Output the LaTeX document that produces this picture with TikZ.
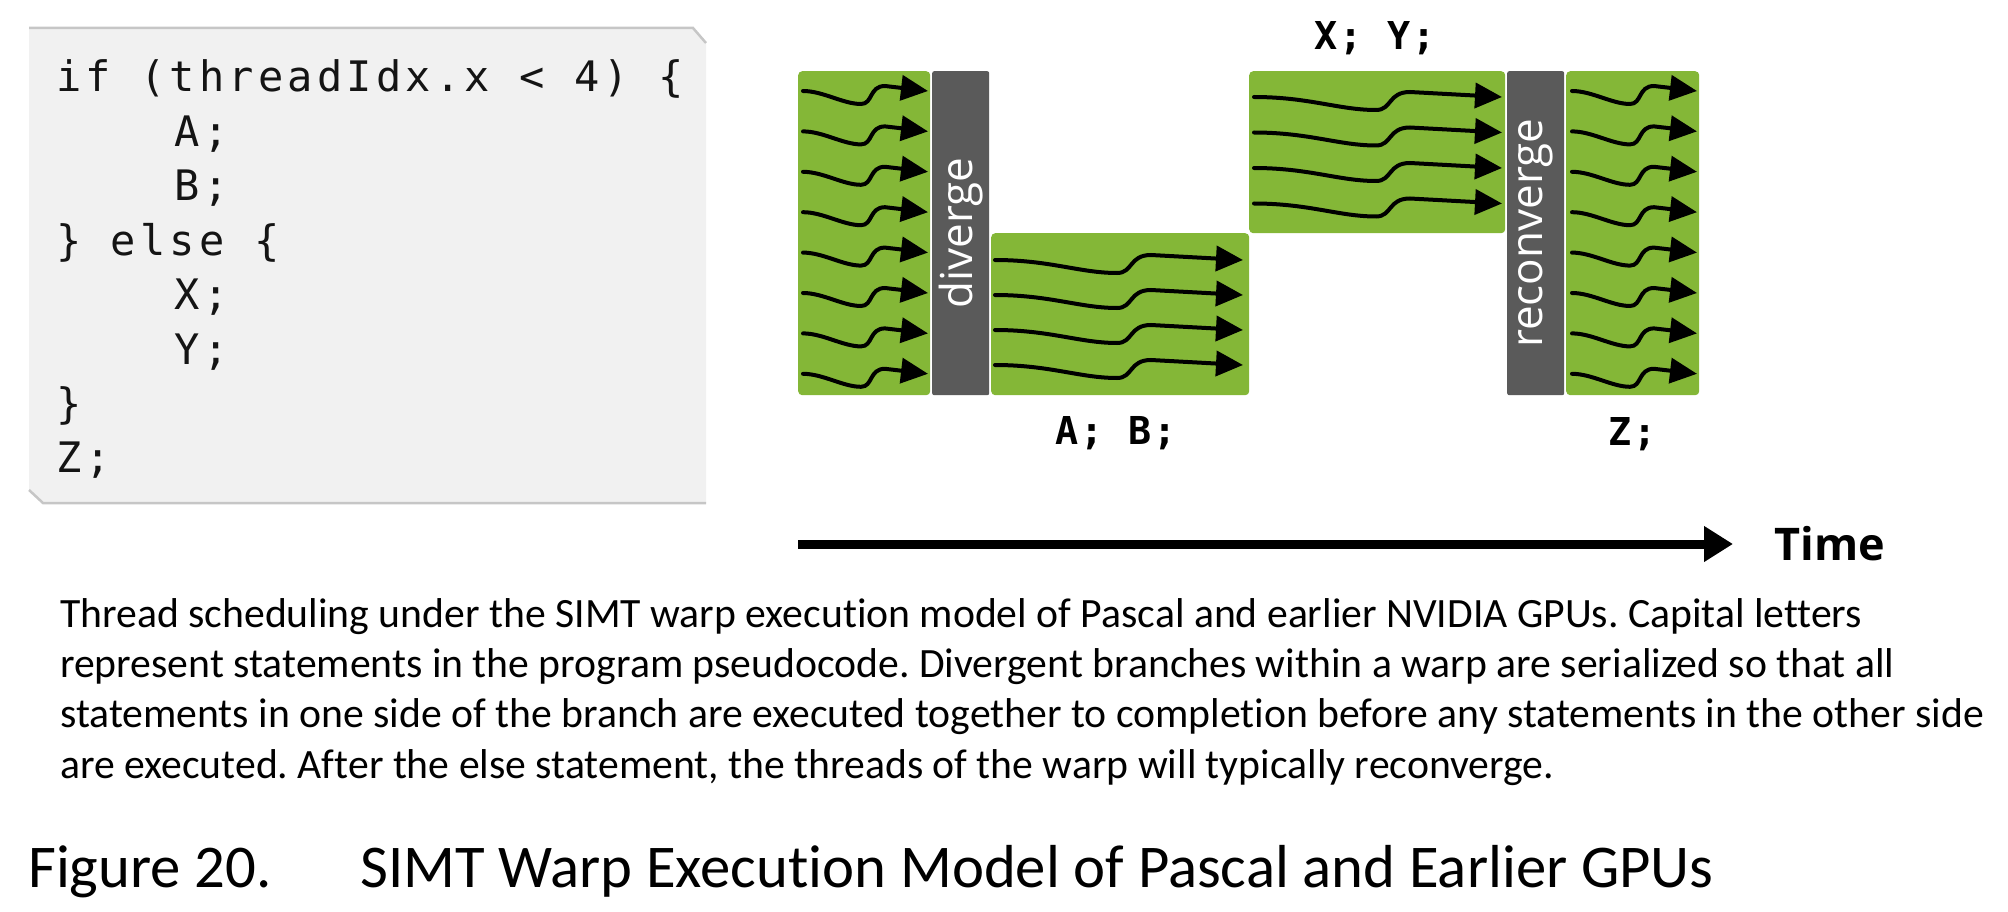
\documentclass[tikz,border=0pt]{standalone}
\usepackage{fontspec}
\setmainfont{Carlito}[Ligatures=NoCommon]
\newfontfamily\codefont[LetterSpace=10]{DejaVu Sans Mono}
\newfontfamily\labelfont[LetterSpace=5]{DejaVu Sans Mono}
\newfontfamily\barfont{Open Sans}
\usetikzlibrary{arrows.meta}
\frenchspacing
\definecolor{warpgreen}{RGB}{132,183,55}
\definecolor{bargray}{RGB}{90,90,90}
\definecolor{codebg}{RGB}{241,241,241}
\definecolor{codeedge}{RGB}{198,198,198}
\begin{document}
\begin{tikzpicture}[x=1pt,y=-1pt,
  greenblk/.style={fill=warpgreen, rounded corners=4pt, draw=none, inner sep=0pt, anchor=north west},
  barblk/.style={fill=bargray, rounded corners=2pt, draw=none, inner sep=0pt, anchor=north west},
  wave/.style={line width=4pt, -{Triangle[length=27pt,width=25pt]}, line cap=round},
  codetxt/.style={anchor=base west, inner sep=0pt, text=black!92, font=\codefont\fontsize{42}{44}\selectfont},
  blabel/.style={anchor=base, inner sep=0pt, font=\labelfont\bfseries\fontsize{38.4}{40}\selectfont},
  bartxt/.style={rotate=90, text=white, inner sep=0pt, font=\barfont\fontsize{44}{48}\selectfont},
  captxt/.style={anchor=base west, inner sep=0pt, font=\fontsize{41.7}{44}\selectfont},
  titletxt/.style={anchor=base west, inner sep=0pt, font=\fontsize{60.7}{62}\selectfont},
  shortwave/.pic={\draw[wave] (0,0) .. controls (20,0) and (40,13) .. (58,13) .. controls (70,13) and (66,-5) .. (82,-5) -- (125,0);},
  longwave/.pic={\draw[wave] (0,0) .. controls (55,0) and (85,13) .. (122,13) .. controls (138,13) and (134,-5) .. (156,-5) -- (248,0);}
]
\useasboundingbox (0,0) rectangle (2008,912);
% code box
\fill[codebg] (29,28) -- (693,28) -- (706,43) -- (706,503) -- (43,503) -- (29,490) -- cycle;
\draw[codeedge, line width=2.5pt] (29,28) -- (693,28) -- (706,43);
\draw[codeedge, line width=2.5pt] (29,490) -- (43,503) -- (706,503);
\node[codetxt] (c1) at (56,92) {if (threadIdx.x < 4) \{};
\node[codetxt] (c2) at (56,146.4) {\ \ \ \ A;};
\node[codetxt] (c3) at (56,200.8) {\ \ \ \ B;};
\node[codetxt] (c4) at (56,255.2) {\} else \{};
\node[codetxt] (c5) at (56,309.6) {\ \ \ \ X;};
\node[codetxt] (c6) at (56,364) {\ \ \ \ Y;};
\node[codetxt] (c7) at (56,418.4) {\}};
\node[codetxt] (c8) at (56,472.8) {Z;};
% blocks
\node[greenblk, minimum width=132pt, minimum height=324pt] (g1) at (798,71) {};
\node[barblk, minimum width=57pt, minimum height=324pt] (div) at (932,71) {};
\node[greenblk, minimum width=258pt, minimum height=162pt] (gab) at (991,233) {};
\node[greenblk, minimum width=256pt, minimum height=162pt] (gxy) at (1249,71) {};
\node[barblk, minimum width=57pt, minimum height=324pt] (rec) at (1507,71) {};
\node[greenblk, minimum width=133pt, minimum height=324pt] (gz) at (1566,71) {};
\node[bartxt] at (div.center) {diverge};
\node[bartxt] at (rec.center) {reconverge};
% waves
\foreach \i in {0,...,7} {
  \pic at (803,{91+40.4*\i}) {shortwave};
  \pic at (1572,{91+40.4*\i}) {shortwave};
}
\foreach \i in {0,...,3} {
  \pic at (995,{260+35*\i}) {longwave};
  \pic at (1254,{97+35.5*\i}) {longwave};
}
% labels
\node[blabel] (lxy) at (1375,50) {X; Y;};
\node[blabel] (lab) at (1116,444) {A; B;};
\node[blabel] (lz) at (1633,445) {Z;};
% time arrow
\coordinate (t0) at (798,544);
\coordinate (t1) at (1733,544);
\draw[line width=9pt, -{Triangle[length=29pt,width=34pt]}] (t0) -- (t1);
\node[anchor=base west, inner sep=0pt, font=\barfont\bfseries\fontsize{45}{48}\selectfont] (time) at (1774,560) {Time};
% caption
\node[captxt] (cap1) at (60,627) {Thread scheduling under the SIMT warp execution model of Pascal and earlier NVIDIA GPUs. Capital letters};
\node[captxt] (cap2) at (60,677) {represent statements in the program pseudocode. Divergent branches within a warp are serialized so that all};
\node[captxt] (cap3) at (60,727.5) {statements in one side of the branch are executed together to completion before any statements in the other side};
\node[captxt] (cap4) at (60,778) {are executed. After the else statement, the threads of the warp will typically reconverge.};
\node[titletxt] (fig) at (28,887) {Figure 20.};
\node[titletxt] (title) at (360,887) {SIMT Warp Execution Model of Pascal and Earlier GPUs};
\end{tikzpicture}
\end{document}
